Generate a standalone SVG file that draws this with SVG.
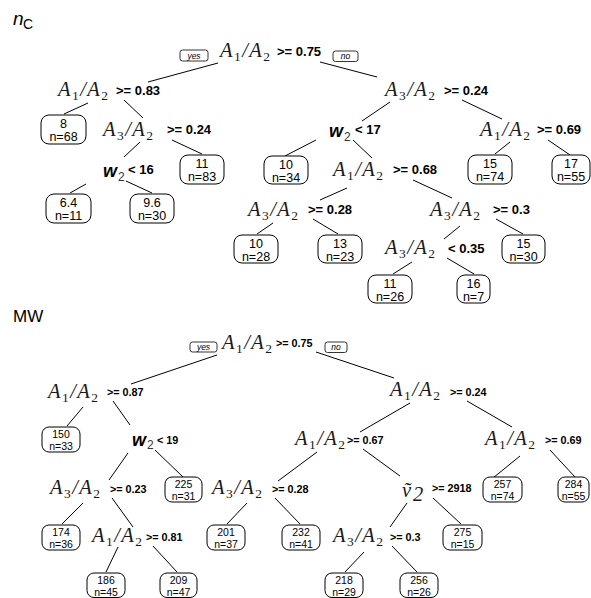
<svg xmlns="http://www.w3.org/2000/svg" width="591" height="598" viewBox="0 0 591 598">
<style>
.bg{fill:#fff}
.ln{stroke:#000;stroke-width:1;fill:none}
.m{font-family:"Liberation Serif","DejaVu Serif",serif;font-style:italic;font-size:20.5px;fill:#1a1a1a}
.s{font-style:normal;font-size:13.5px}
.c{font-family:"Liberation Sans",Arial,sans-serif;font-weight:bold;font-size:13px;fill:#000}
.c2{font-family:"Liberation Sans",Arial,sans-serif;font-weight:bold;font-size:10.8px;fill:#000}
.w{font-family:"Liberation Sans",Arial,sans-serif;font-weight:bold;font-style:italic;font-size:18px;fill:#000}
.ws{font-family:"Liberation Sans",Arial,sans-serif;font-weight:normal;font-style:normal;font-size:12px;fill:#333}
.lf rect{fill:#fff;stroke:#000;stroke-width:1}
.lf text{font-family:"Liberation Sans",Arial,sans-serif;font-size:12.5px;text-anchor:middle;fill:#000}
.lf2 rect{fill:#fff;stroke:#000;stroke-width:1}
.lf2 text{font-family:"Liberation Sans",Arial,sans-serif;font-size:10.5px;text-anchor:middle;fill:#000}
.yn rect{fill:#fff;stroke:#000;stroke-width:0.8}
.yn text{font-family:"Liberation Sans",Arial,sans-serif;font-style:italic;font-size:8.5px;text-anchor:middle;fill:#000}
.t{font-family:"Liberation Sans",Arial,sans-serif;fill:#000}
</style>
<rect class="bg" x="0" y="0" width="591" height="598"/>

<!-- Titles -->
<g id="title-nc"><text class="t" x="13" y="25" font-size="19" font-style="italic">n</text><text class="t" x="23" y="29" font-size="14">C</text></g>
<g id="title-mw"><text class="t" x="13" y="322" font-size="17">MW</text></g>

<!-- Connectors -->
<g id="connectors" class="ln">
<!-- nC tree -->
<line x1="218" y1="63" x2="148" y2="82"/>
<line x1="320" y1="62" x2="377" y2="77"/>
<line x1="88" y1="103" x2="64" y2="114"/>
<line x1="124" y1="100" x2="143" y2="118"/>
<line x1="140" y1="142" x2="124" y2="157"/>
<line x1="172" y1="140" x2="202" y2="154"/>
<line x1="86" y1="184" x2="70" y2="193"/>
<line x1="126" y1="181" x2="152" y2="193"/>
<line x1="390" y1="102" x2="362" y2="121"/>
<line x1="462" y1="100" x2="502" y2="119"/>
<line x1="316" y1="140" x2="285" y2="156"/>
<line x1="353" y1="140" x2="372" y2="158"/>
<line x1="347" y1="188" x2="320" y2="200"/>
<line x1="413" y1="180" x2="452" y2="198"/>
<line x1="273" y1="223" x2="257" y2="234"/>
<line x1="313" y1="219" x2="338" y2="234"/>
<line x1="460" y1="226" x2="444" y2="239"/>
<line x1="496" y1="219" x2="523" y2="234"/>
<line x1="412" y1="262" x2="393" y2="274"/>
<line x1="447" y1="258" x2="474" y2="274"/>
<line x1="510" y1="142" x2="495" y2="154"/>
<line x1="548" y1="140" x2="570" y2="155"/>
<!-- MW tree -->
<line x1="217" y1="355" x2="131" y2="384"/>
<line x1="316" y1="352" x2="394" y2="378"/>
<line x1="83" y1="407" x2="67" y2="426"/>
<line x1="113" y1="401" x2="130" y2="425"/>
<line x1="128" y1="453" x2="109" y2="480"/>
<line x1="155" y1="450" x2="183" y2="477"/>
<line x1="83" y1="503" x2="62" y2="524"/>
<line x1="112" y1="498" x2="133" y2="527"/>
<line x1="118" y1="547" x2="106" y2="572"/>
<line x1="153" y1="546" x2="177" y2="572"/>
<line x1="410" y1="403" x2="360" y2="432"/>
<line x1="467" y1="401" x2="512" y2="427"/>
<line x1="317" y1="452" x2="278" y2="481"/>
<line x1="363" y1="449" x2="400" y2="476"/>
<line x1="247" y1="503" x2="227" y2="524"/>
<line x1="275" y1="498" x2="300" y2="524"/>
<line x1="407" y1="503" x2="390" y2="527"/>
<line x1="433" y1="498" x2="461" y2="524"/>
<line x1="364" y1="552" x2="345" y2="572"/>
<line x1="392" y1="546" x2="417" y2="572"/>
<line x1="520" y1="456" x2="493" y2="478"/>
<line x1="550" y1="450" x2="575" y2="477"/>
</g>

<!-- ===== nC tree nodes ===== -->
<g id="nc-root">
<g class="yn"><rect x="180" y="50" width="28" height="11" rx="2.5"/><text x="194" y="58.5">yes</text></g>
<text class="m" x="220" y="57" textLength="50">A<tspan class="s" dy="3.5">1</tspan><tspan dy="-3.5">/A</tspan><tspan class="s" dy="3.5">2</tspan></text>
<text class="c" x="277" y="56">&gt;= 0.75</text>
<g class="yn"><rect x="333" y="51" width="25" height="10.5" rx="2.5"/><text x="345.5" y="59">no</text></g>
</g>
<g id="nc-n2"><text class="m" x="58" y="96" textLength="50">A<tspan class="s" dy="3.5">1</tspan><tspan dy="-3.5">/A</tspan><tspan class="s" dy="3.5">2</tspan></text><text class="c" x="116" y="95">&gt;= 0.83</text></g>
<g id="nc-leaf-8" class="lf"><rect x="41" y="115" width="45" height="29" rx="8"/><text x="63.5" y="128">8</text><text x="63.5" y="141">n=68</text></g>
<g id="nc-n5"><text class="m" x="103" y="136" textLength="50">A<tspan class="s" dy="3.5">3</tspan><tspan dy="-3.5">/A</tspan><tspan class="s" dy="3.5">2</tspan></text><text class="c" x="167" y="134">&gt;= 0.24</text></g>
<g id="nc-n10"><text class="w" x="103" y="177">w</text><text class="ws" x="118" y="181">2</text><text class="c" x="128" y="174">&lt; 16</text></g>
<g id="nc-leaf-11a" class="lf"><rect x="180" y="155" width="44" height="29" rx="8"/><text x="202" y="168">11</text><text x="202" y="181">n=83</text></g>
<g id="nc-leaf-6.4" class="lf"><rect x="46" y="194" width="45" height="29" rx="8"/><text x="68.5" y="207">6.4</text><text x="68.5" y="220">n=11</text></g>
<g id="nc-leaf-9.6" class="lf"><rect x="130" y="194" width="44" height="29" rx="8"/><text x="152" y="207">9.6</text><text x="152" y="220">n=30</text></g>

<g id="nc-n3"><text class="m" x="385" y="96" textLength="50">A<tspan class="s" dy="3.5">3</tspan><tspan dy="-3.5">/A</tspan><tspan class="s" dy="3.5">2</tspan></text><text class="c" x="444" y="95">&gt;= 0.24</text></g>
<g id="nc-n6"><text class="w" x="329" y="137">w</text><text class="ws" x="344" y="141">2</text><text class="c" x="355" y="134">&lt; 17</text></g>
<g id="nc-leaf-10a" class="lf"><rect x="264" y="156" width="44" height="28" rx="8"/><text x="286" y="168.5">10</text><text x="286" y="181.5">n=34</text></g>
<g id="nc-n13"><text class="m" x="333" y="176" textLength="50">A<tspan class="s" dy="3.5">1</tspan><tspan dy="-3.5">/A</tspan><tspan class="s" dy="3.5">2</tspan></text><text class="c" x="393" y="174">&gt;= 0.68</text></g>
<g id="nc-n26"><text class="m" x="248" y="216" textLength="50">A<tspan class="s" dy="3.5">3</tspan><tspan dy="-3.5">/A</tspan><tspan class="s" dy="3.5">2</tspan></text><text class="c" x="308" y="214">&gt;= 0.28</text></g>
<g id="nc-leaf-10b" class="lf"><rect x="234" y="235" width="44" height="28" rx="8"/><text x="256" y="247.5">10</text><text x="256" y="260.5">n=28</text></g>
<g id="nc-leaf-13" class="lf"><rect x="318" y="235" width="44" height="28" rx="8"/><text x="340" y="247.5">13</text><text x="340" y="260.5">n=23</text></g>
<g id="nc-n27"><text class="m" x="430" y="216" textLength="50">A<tspan class="s" dy="3.5">3</tspan><tspan dy="-3.5">/A</tspan><tspan class="s" dy="3.5">2</tspan></text><text class="c" x="493" y="214">&gt;= 0.3</text></g>
<g id="nc-leaf-15b" class="lf"><rect x="502" y="235" width="43" height="28" rx="8"/><text x="523.5" y="247.5">15</text><text x="523.5" y="260.5">n=30</text></g>
<g id="nc-n54"><text class="m" x="385" y="254" textLength="50">A<tspan class="s" dy="3.5">3</tspan><tspan dy="-3.5">/A</tspan><tspan class="s" dy="3.5">2</tspan></text><text class="c" x="448" y="253">&lt; 0.35</text></g>
<g id="nc-leaf-11b" class="lf"><rect x="368" y="275" width="44" height="28" rx="8"/><text x="390" y="287.5">11</text><text x="390" y="300.5">n=26</text></g>
<g id="nc-leaf-16" class="lf"><rect x="457" y="275" width="33" height="28" rx="8"/><text x="473.5" y="287.5">16</text><text x="473.5" y="300.5">n=7</text></g>
<g id="nc-n7"><text class="m" x="480" y="136" textLength="50">A<tspan class="s" dy="3.5">1</tspan><tspan dy="-3.5">/A</tspan><tspan class="s" dy="3.5">2</tspan></text><text class="c" x="537" y="134">&gt;= 0.69</text></g>
<g id="nc-leaf-15a" class="lf"><rect x="468" y="155" width="44" height="29" rx="8"/><text x="490" y="168">15</text><text x="490" y="181">n=74</text></g>
<g id="nc-leaf-17" class="lf"><rect x="552" y="155" width="38" height="29" rx="8"/><text x="571" y="168">17</text><text x="571" y="181">n=55</text></g>

<!-- ===== MW tree nodes ===== -->
<g id="mw-root">
<g class="yn"><rect x="190" y="342" width="27" height="10" rx="2.5"/><text x="203.5" y="350" font-size="8">yes</text></g>
<text class="m" x="222" y="349" textLength="50">A<tspan class="s" dy="3.5">1</tspan><tspan dy="-3.5">/A</tspan><tspan class="s" dy="3.5">2</tspan></text>
<text class="c2" x="276" y="347" font-size="10">&gt;= 0.75</text>
<g class="yn"><rect x="325" y="342" width="22" height="10.5" rx="2.5"/><text x="336" y="350" font-size="8">no</text></g>
</g>
<g id="mw-n2"><text class="m" x="48" y="398" textLength="50">A<tspan class="s" dy="3.5">1</tspan><tspan dy="-3.5">/A</tspan><tspan class="s" dy="3.5">2</tspan></text><text class="c2" x="107" y="396">&gt;= 0.87</text></g>
<g id="mw-leaf-150" class="lf2"><rect x="42" y="427" width="38" height="25" rx="7"/><text x="61" y="438">150</text><text x="61" y="449.5">n=33</text></g>
<g id="mw-n5"><text class="w" x="132" y="446">w</text><text class="ws" x="147" y="449" font-size="11">2</text><text class="c2" x="157" y="444">&lt; 19</text></g>
<g id="mw-leaf-225" class="lf2"><rect x="165" y="477" width="37" height="25" rx="7"/><text x="183.5" y="488">225</text><text x="183.5" y="499.5">n=31</text></g>
<g id="mw-n10"><text class="m" x="50" y="494" textLength="50">A<tspan class="s" dy="3.5">3</tspan><tspan dy="-3.5">/A</tspan><tspan class="s" dy="3.5">2</tspan></text><text class="c2" x="110" y="493">&gt;= 0.23</text></g>
<g id="mw-leaf-174" class="lf2"><rect x="42" y="525" width="38" height="25" rx="7"/><text x="61" y="536">174</text><text x="61" y="547.5">n=36</text></g>
<g id="mw-n21"><text class="m" x="92" y="542" textLength="50">A<tspan class="s" dy="3.5">1</tspan><tspan dy="-3.5">/A</tspan><tspan class="s" dy="3.5">2</tspan></text><text class="c2" x="146" y="541">&gt;= 0.81</text></g>
<g id="mw-leaf-186" class="lf2"><rect x="87" y="573" width="38" height="24.5" rx="7"/><text x="106" y="584">186</text><text x="106" y="595.5">n=45</text></g>
<g id="mw-leaf-209" class="lf2"><rect x="160" y="573" width="37" height="24.5" rx="7"/><text x="178.5" y="584">209</text><text x="178.5" y="595.5">n=47</text></g>

<g id="mw-n3"><text class="m" x="390" y="396" textLength="50">A<tspan class="s" dy="3.5">1</tspan><tspan dy="-3.5">/A</tspan><tspan class="s" dy="3.5">2</tspan></text><text class="c2" x="450" y="396">&gt;= 0.24</text></g>
<g id="mw-n6"><text class="m" x="295" y="445" textLength="50">A<tspan class="s" dy="3.5">1</tspan><tspan dy="-3.5">/A</tspan><tspan class="s" dy="3.5">2</tspan></text><text class="c2" x="347" y="444">&gt;= 0.67</text></g>
<g id="mw-n12"><text class="m" x="212" y="494" textLength="50">A<tspan class="s" dy="3.5">3</tspan><tspan dy="-3.5">/A</tspan><tspan class="s" dy="3.5">2</tspan></text><text class="c2" x="272" y="493">&gt;= 0.28</text></g>
<g id="mw-leaf-201" class="lf2"><rect x="207" y="525" width="38" height="25" rx="7"/><text x="226" y="536">201</text><text x="226" y="547.5">n=37</text></g>
<g id="mw-leaf-232" class="lf2"><rect x="282" y="525" width="38" height="25" rx="7"/><text x="301" y="536">232</text><text x="301" y="547.5">n=41</text></g>
<g id="mw-n13"><text class="m" x="402" y="497">ṽ</text><text class="m" x="413" y="501" font-style="normal" font-size="13.5">2</text><text class="c2" x="432" y="492">&gt;= 2918</text></g>
<g id="mw-leaf-275" class="lf2"><rect x="443" y="525" width="39" height="25" rx="7"/><text x="462.5" y="536">275</text><text x="462.5" y="547.5">n=15</text></g>
<g id="mw-n26"><text class="m" x="333" y="542" textLength="50">A<tspan class="s" dy="3.5">3</tspan><tspan dy="-3.5">/A</tspan><tspan class="s" dy="3.5">2</tspan></text><text class="c2" x="390" y="541">&gt;= 0.3</text></g>
<g id="mw-leaf-218" class="lf2"><rect x="325" y="573" width="38" height="24.5" rx="7"/><text x="344" y="584">218</text><text x="344" y="595.5">n=29</text></g>
<g id="mw-leaf-256" class="lf2"><rect x="400" y="573" width="38" height="24.5" rx="7"/><text x="419" y="584">256</text><text x="419" y="595.5">n=26</text></g>
<g id="mw-n7"><text class="m" x="485" y="445" textLength="50">A<tspan class="s" dy="3.5">1</tspan><tspan dy="-3.5">/A</tspan><tspan class="s" dy="3.5">2</tspan></text><text class="c2" x="545" y="444">&gt;= 0.69</text></g>
<g id="mw-leaf-257" class="lf2"><rect x="483" y="477" width="39" height="25" rx="7"/><text x="502.5" y="488">257</text><text x="502.5" y="499.5">n=74</text></g>
<g id="mw-leaf-284" class="lf2"><rect x="558" y="477" width="31" height="25" rx="7"/><text x="573.5" y="488">284</text><text x="573.5" y="499.5">n=55</text></g>
</svg>
